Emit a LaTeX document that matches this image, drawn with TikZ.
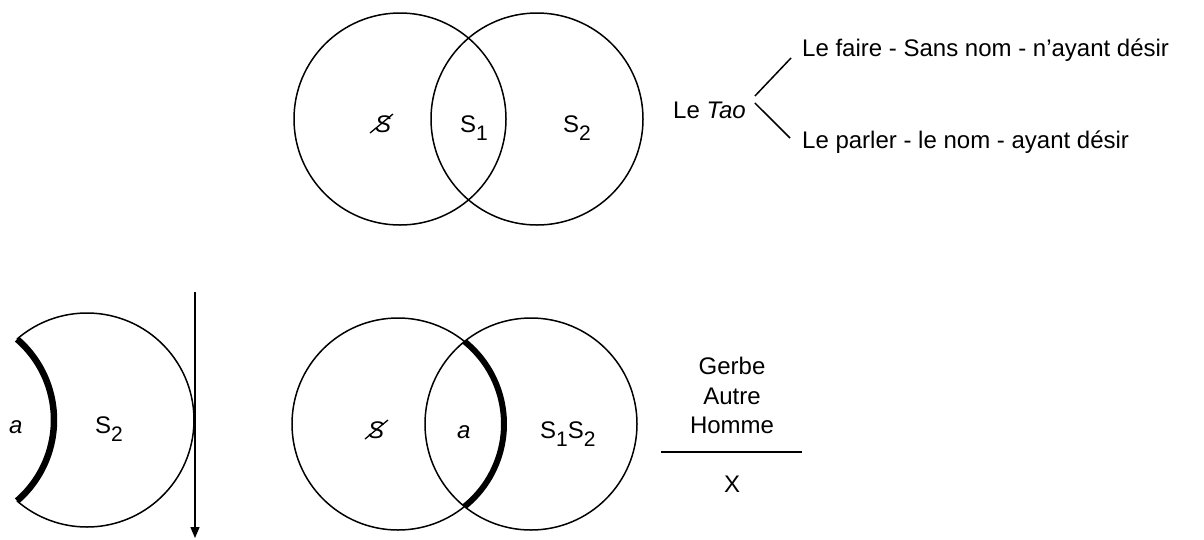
\documentclass[tikz,border=0pt]{standalone}
\usepackage{fontspec}
\setmainfont{Liberation Sans}
\usetikzlibrary{arrows.meta}
\newcommand\lowidx[1]{\raisebox{-8.5pt}{\fontsize{21}{25}\selectfont #1}}
\tikzset{
  txt/.style={inner sep=0pt, anchor=base west, font=\fontsize{24}{29}\selectfont},
  ctxt/.style={inner sep=0pt, anchor=base, font=\fontsize{24}{29}\selectfont},
  thin line/.style={line width=1.5pt},
  bold arc/.style={line width=6pt},
  barstroke/.style={line width=1.3pt}
}
\begin{document}
\begin{tikzpicture}[x=1pt,y=1pt]
\useasboundingbox (0,0) rectangle (1204,-539);

% ---- upper pair of circles ----
\coordinate (tl) at (400,-119);
\coordinate (tr) at (537,-119);
\draw[thin line] (tl) circle[radius=106];
\draw[thin line] (tr) circle[radius=106];
\node[txt] (tbs) at (375,-132) {\itshape S};
\draw[barstroke] ([shift={(-5,-1)}]tbs.base west) -- ([shift={(18,18)}]tbs.base west);
\node[txt] (ts1) at (460,-132) {S\lowidx{1}};
\node[txt] (ts2) at (563,-132) {S\lowidx{2}};

% ---- the Tao and its two branches ----
\node[txt] (tao) at (673,-118) {Le \textit{Tao}};
\node[txt] (faire) at (802,-56) {Le faire - Sans nom - n’ayant désir};
\node[txt] (parler) at (802,-148) {Le parler - le nom - ayant désir};
\draw[thin line] ([shift={(9,22)}]tao.base east) -- ([shift={(-11,-2)}]faire.base west);
\draw[thin line] ([shift={(9,15)}]tao.base east) -- ([shift={(-12,10)}]parler.base west);

% ---- crescent S2 with the cut edge a ----
\coordinate (co) at (87,-420);
\coordinate (ci) at (-53,-420);
\draw[thin line] ([shift={(130.9:107)}]co) arc[start angle=130.9, end angle=-130.9, radius=107];
\draw[bold arc, line width=6.5pt] ([shift={(49.1:107)}]ci) arc[start angle=49.1, end angle=-49.1, radius=107];
\node[txt] (ca) at (9,-433) {\itshape a};
\node[txt] (cs2) at (95,-433) {S\lowidx{2}};

% ---- downward arrow ----
\coordinate (arrtop) at (195,-292);
\coordinate (arrbot) at (195,-538);
\draw[line width=1.3pt, -{Triangle[width=9pt,length=11pt]}] (arrtop) -- (arrbot);

% ---- lower pair of circles ----
\coordinate (bl) at (398,-424);
\coordinate (br) at (531,-424);
\draw[thin line] (bl) circle[radius=106];
\draw[thin line] (br) circle[radius=106];
\draw[bold arc] ([shift={(51.15:106)}]bl) arc[start angle=51.15, end angle=-51.15, radius=106];
\node[txt] (bbs) at (368,-438) {\itshape S};
\draw[barstroke] ([shift={(-3,-1)}]bbs.base west) -- ([shift={(20,18)}]bbs.base west);
\node[txt] (ba) at (457,-438) {\itshape a};
\node[txt] (bs12) at (540,-438) {S\lowidx{1}S\lowidx{2}};

% ---- fraction: Gerbe / Autre / Homme over X ----
\node[ctxt] (gerbe) at (732,-374) {Gerbe};
\node[ctxt] (autre) at (732,-404) {Autre};
\node[ctxt] (homme) at (732,-433) {Homme};
\coordinate (barl) at (661,-452);
\coordinate (barr) at (802,-452);
\draw[thin line] (barl) -- (barr);
\node[ctxt] (xx) at (732,-492) {X};
\end{tikzpicture}
\end{document}
